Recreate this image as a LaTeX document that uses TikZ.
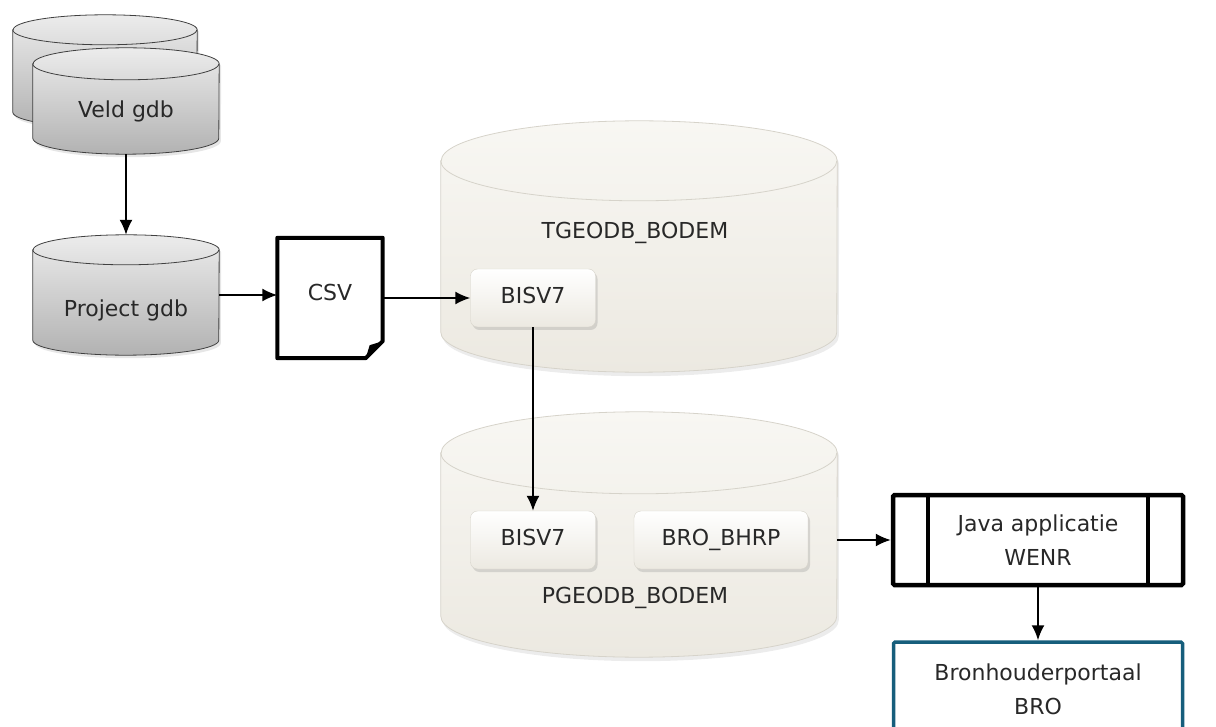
\documentclass[tikz,border=0pt]{standalone}
\usepackage{fontspec}
\setmainfont{DejaVu Sans}
\usepackage{xcolor}
\usetikzlibrary{arrows.meta, positioning, shapes.geometric, shadows}

\definecolor{gdbtop}{RGB}{236,236,236}
\definecolor{gdbbot}{RGB}{178,178,178}
\definecolor{dbtop}{RGB}{248,247,243}
\definecolor{dbbot}{RGB}{236,233,225}
\definecolor{dbline}{RGB}{214,211,202}
\definecolor{broblue}{RGB}{22,94,124}
\definecolor{txt}{RGB}{40,40,40}

% cylinder drawn round a named box: body style, rim style, node, x radius, y radius
\newcommand{\cylbody}[5]{%
  \path[#1] ([yshift=-#5pt]#3.north west) -- ([yshift=#5pt]#3.south west)
    arc[start angle=180, end angle=0, x radius=#4, y radius=#5]
    -- ([yshift=-#5pt]#3.north east)
    arc[start angle=0, end angle=-180, x radius=#4, y radius=#5] -- cycle;
  \draw[#2] ([yshift=-#5pt]#3.north west) arc[start angle=180, end angle=0, x radius=#4, y radius=#5];
}

\begin{document}
\begin{tikzpicture}[
  x=1pt, y=-1pt,
  >={Latex[length=15pt,width=13pt]},
  every node/.style={font=\fontsize{22}{34}\selectfont, text=txt},
  flow/.style={->, line width=1.8pt},
  cylbox/.style={inner sep=0pt},
  gdbrim/.style={draw=black!75, line width=0.8pt},
  gdb/.style={gdbrim, top color=gdbtop, bottom color=gdbbot,
    drop shadow={opacity=0.2, shadow xshift=2pt, shadow yshift=-3pt}},
  dbrim/.style={draw=dbline, line width=0.8pt},
  db/.style={dbrim, top color=dbtop, bottom color=dbbot,
    drop shadow={opacity=0.15, shadow xshift=2pt, shadow yshift=-4pt}},
  dbtable/.style={draw=dbline, rounded corners=7pt, top color=white, bottom color=dbbot,
    minimum height=58pt, text height=16pt, text depth=5pt,
    drop shadow={opacity=0.25, shadow xshift=2pt, shadow yshift=-3pt}},
  doc/.style={draw, line width=4pt, line join=round, fill=white},
  proc/.style={draw, line width=4.5pt, rounded corners=1.5pt, minimum width=290pt,
    minimum height=90pt, align=center},
  portal/.style={draw=broblue, line width=3.5pt, rounded corners=1.5pt, minimum width=289pt,
    minimum height=116pt}
]
\useasboundingbox (0,0) rectangle (1216,727);

% geodatabases
\node[cylbox, minimum width=184pt, minimum height=112pt] (veldback) at (105,71) {};
\node[cylbox, minimum width=186pt, minimum height=106pt] (veld) at (126,101) {};
\node[cylbox, minimum width=186pt, minimum height=120pt] (project) at (126,295) {};
\cylbody{gdb}{gdbrim}{veldback}{92}{15}
\cylbody{gdb}{gdbrim}{veld}{93}{16}
\cylbody{gdb}{gdbrim}{project}{93}{15}
\node (veldtxt) at (126,111) {Veld gdb};
\node (projecttxt) at (126,310) {Project gdb};

% csv export
\node[minimum width=105pt, minimum height=120pt] (csv) at (330,298) {};
\draw[doc] (csv.north west) -- (csv.north east) -- ([yshift=17pt]csv.south east)
  -- ([xshift=-17pt]csv.south east) -- (csv.south west) -- cycle;
\fill ([yshift=17pt]csv.south east) -- ([xshift=-17pt]csv.south east)
  -- ([xshift=-13pt,yshift=13pt]csv.south east) -- cycle;
\node at ([yshift=6pt]csv.center) (csvtxt) {CSV};

% oracle schemas
\node[cylbox, minimum width=396pt, minimum height=251pt] (tgeo) at (639,246.5) {};
\cylbody{db}{dbrim}{tgeo}{198}{40}
\node (tgeotxt) at (635,233) {TGEODB\_BODEM};
\node[dbtable, minimum width=125pt] (tbis) at (533,298) {BISV7};

\node[cylbox, minimum width=396pt, minimum height=245pt] (pgeo) at (639,534.5) {};
\cylbody{db}{dbrim}{pgeo}{198}{41}
\node[dbtable, minimum width=125pt] (pbis) at (533,540) {BISV7};
\node[dbtable, minimum width=174pt] (bhrp) at (721,540) {BRO\_BHRP};
\node (pgeotxt) at (635,598) {PGEODB\_BODEM};

% delivery
\node[proc] (java) at (1038,540) {Java applicatie\\WENR};
\draw[line width=4pt] ([xshift=37pt]java.north west) -- ([xshift=37pt]java.south west);
\draw[line width=4pt] ([xshift=-37pt]java.north east) -- ([xshift=-37pt]java.south east);
\node[portal] (bro) at (1038,700) {};
\node[align=center] (brotxt) at ([yshift=11pt]bro.center) {Bronhouderportaal\\BRO};

% flows
\draw[flow] (veld.south) -- (project.north);
\draw[flow] (project.east) -- (project.east -| csv.west);
\draw[flow] (csv.east |- tbis.west) -- (tbis.west);
\draw[flow] (tbis.south) -- (pbis.north);
\draw[flow] (java.west -| pgeo.east) -- (java.west);
\draw[flow] (java.south) -- (bro.north);
\end{tikzpicture}
\end{document}
